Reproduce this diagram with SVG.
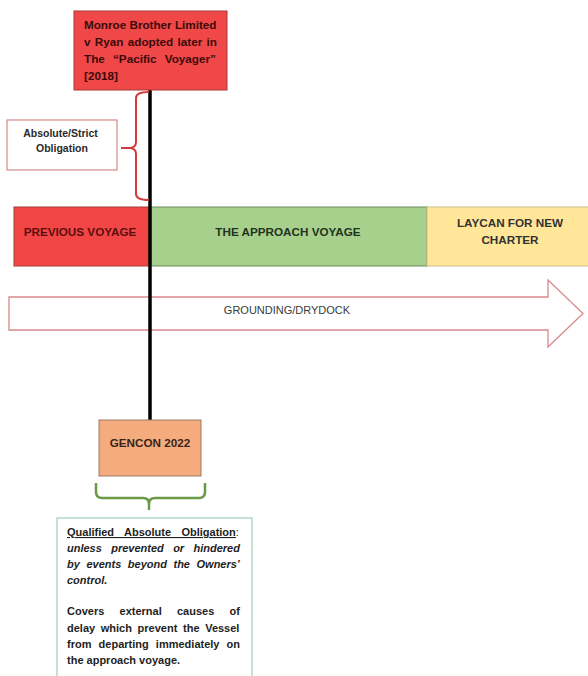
<svg xmlns="http://www.w3.org/2000/svg" width="588" height="676" viewBox="0 0 588 676">
<style>
  text { font-family: "Liberation Sans", Arial, sans-serif; }
  .b { font-weight: bold; }
  .band { stroke-width: 1; }
  .lbl { font-size: 11.7px; font-weight: bold; text-anchor: middle; }
  .body { font-size: 11px; font-weight: bold; fill: #1e1e1e; }
  .it { font-style: italic; }
</style>
<rect width="588" height="676" fill="#ffffff"/>

<g id="bands">
  <g id="previous-voyage">
    <rect x="14" y="207" width="136" height="59" fill="#f24646" stroke="#a63a3a" class="band"/>
    <text x="80" y="236" class="lbl" fill="#5a0f0f">PREVIOUS VOYAGE</text>
  </g>
  <g id="approach-voyage">
    <rect x="150" y="207" width="277" height="59" fill="#a8d08d" stroke="#6e8c5c" class="band"/>
    <text x="288" y="236" class="lbl" fill="#1f3320">THE APPROACH VOYAGE</text>
  </g>
  <g id="laycan">
    <rect x="427" y="207" width="165" height="59" fill="#ffe699" stroke="#cfc08a" class="band"/>
    <text x="510" y="227" class="lbl" fill="#333333">LAYCAN FOR NEW</text>
    <text x="510" y="244" class="lbl" fill="#333333">CHARTER</text>
  </g>
</g>

<g id="grounding-arrow">
  <path d="M9,297 L548,297 L548,280 L583,313.5 L548,347 L548,330 L9,330 Z" fill="#ffffff" stroke="#d9898d" stroke-width="1.3"/>
  <text x="287" y="314" font-size="11" fill="#3a3a3a" text-anchor="middle">GROUNDING/DRYDOCK</text>
</g>

<g id="connectors">
  <line x1="150" y1="90" x2="150" y2="420" stroke="#000000" stroke-width="3.5"/>
  <path d="M149,92 Q136,92 136,98 L136,142 Q136,148 129,148 L121,148 M129,148 Q136,148 136,154 L136,194 Q136,200 149,200" fill="none" stroke="#d43a3a" stroke-width="2"/>
  <path d="M96,483 L96,492 Q96,498 102,498 L143,498 Q149,498 149,504 L149,510 M149,504 Q149,498 155,498 L199,498 Q205,498 205,492 L205,483" fill="none" stroke="#6a9a45" stroke-width="2.5"/>
</g>

<g id="monroe">
  <rect x="74" y="11" width="153" height="79" fill="#f04848" stroke="#a83838" stroke-width="1"/>
  <text class="b" font-size="11.7" fill="#3d0a0a">
    <tspan x="84" y="28.5">Monroe Brother Limited</tspan>
    <tspan x="84" y="45.5" word-spacing="1.1">v Ryan adopted later in</tspan>
    <tspan x="84" y="63" word-spacing="5">The “Pacific Voyager”</tspan>
    <tspan x="84" y="80">[2018]</tspan>
  </text>
</g>

<g id="absolute-strict">
  <rect x="7" y="120" width="110" height="50" fill="#ffffff" stroke="#d48a8a" stroke-width="1.2"/>
  <text class="b" font-size="10.5" fill="#2a2a2a" text-anchor="middle">
    <tspan x="62" y="137">Absolute/Strict</tspan>
    <tspan x="62" y="152">Obligation</tspan>
  </text>
</g>

<g id="gencon">
  <rect x="99" y="420" width="102" height="56" fill="#f4ac7f" stroke="#9c7a68" stroke-width="1"/>
  <text x="150" y="447" class="b" font-size="11.7" fill="#3a2418" text-anchor="middle">GENCON 2022</text>
</g>

<g id="qualified">
  <rect x="57" y="518" width="195" height="170" fill="#ffffff" stroke="#a7cfc2" stroke-width="1.3"/>
  <text class="body">
    <tspan x="67" y="536" word-spacing="7.3" text-decoration="underline">Qualified Absolute Obligation</tspan><tspan font-weight="normal">:</tspan>
    <tspan x="67" y="552" class="it" word-spacing="6.3">unless prevented or hindered</tspan>
    <tspan x="67" y="568" class="it" word-spacing="3.5">by events beyond the Owners’</tspan>
    <tspan x="67" y="584" class="it">control.</tspan>
    <tspan x="67" y="615" word-spacing="12.2">Covers external causes of</tspan>
    <tspan x="67" y="632" word-spacing="2.6">delay which prevent the Vessel</tspan>
    <tspan x="67" y="648" word-spacing="4.1">from departing immediately on</tspan>
    <tspan x="67" y="664">the approach voyage.</tspan>
  </text>
</g>
</svg>
